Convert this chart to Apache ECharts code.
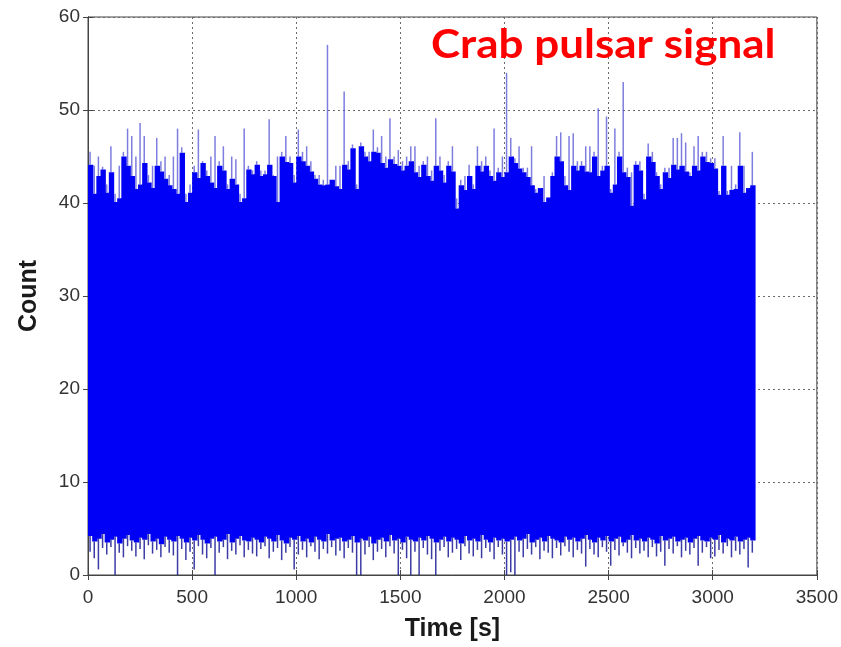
<!DOCTYPE html>
<html><head><meta charset="utf-8">
<script src="https://cdn.jsdelivr.net/npm/echarts@6/dist/echarts.min.js"></script>
<style>html,body{margin:0;padding:0;background:#fff}#c{width:841px;height:647px}</style>
</head><body><div id="c"></div>
<script>
// Histogram of photon counts, 20 s display bins from 0 to 3200 s
const BIN = 20;
// solid top level of each bin
const upper = [
 44.1,41.0,42.9,43.6,41.1,43.3,40.1,40.5,45.0,44.0,
 42.9,41.5,42.0,44.3,42.2,41.6,44.0,43.4,42.6,41.9,
 41.5,41.0,45.4,40.1,41.1,43.3,42.7,44.3,42.9,42.2,
 41.6,44.0,43.5,41.5,42.6,42.0,40.1,40.5,43.6,43.1,
 44.1,42.9,43.1,44.1,42.9,40.1,45.0,44.4,44.3,42.2,
 45.0,44.5,44.0,43.4,42.6,42.0,41.9,42.0,42.5,41.8,
 41.5,44.1,43.6,45.9,41.5,46.1,45.0,44.5,45.5,45.4,
 44.3,43.8,44.7,44.2,44.0,43.5,44.0,44.5,43.3,42.8,
 44.1,42.9,42.4,44.0,43.5,42.2,44.0,43.4,39.4,41.9,
 41.4,42.9,41.5,44.0,43.4,44.0,42.9,42.4,43.3,42.8,
 43.3,45.0,44.3,43.7,43.3,42.8,41.9,41.1,41.6,40.1,
 40.6,42.9,45.0,44.5,41.9,41.4,44.0,43.5,44.0,43.4,
 43.3,45.0,42.9,43.5,44.0,41.1,42.0,45.0,43.3,42.8,
 39.7,44.1,43.5,40.4,45.0,44.4,42.9,41.5,43.3,42.7,
 44.1,43.6,44.0,43.4,42.9,44.0,43.5,45.0,44.4,44.3,
 43.7,40.9,44.0,40.9,41.4,41.5,44.0,41.1,41.6,41.9
];
// thin spike maximum inside each bin
const spike = [
 45.5,44.0,45.0,43.9,42.0,46.1,41.0,44.0,45.5,48.0,
 47.2,45.0,48.6,47.2,43.0,44.0,47.0,44.5,45.0,43.0,
 45.0,48.0,46.0,41.0,42.0,44.0,47.9,44.5,43.5,45.0,
 47.2,44.5,46.1,42.0,45.0,44.7,41.0,48.0,44.0,43.5,
 44.5,43.5,43.5,49.0,43.0,45.0,45.5,47.2,45.0,43.0,
 47.9,45.5,46.1,44.5,43.0,43.0,42.5,57.0,42.5,44.0,
 44.0,52.0,44.5,46.3,42.0,46.5,45.5,45.5,47.9,46.0,
 47.2,45.0,49.1,45.0,45.7,44.5,45.0,46.1,46.1,44.0,
 44.5,45.0,43.5,49.1,45.0,43.0,44.5,46.1,40.5,42.5,
 42.9,44.1,42.0,46.1,44.5,45.0,43.5,48.0,43.8,45.0,
 54.0,47.0,44.8,46.1,43.8,43.8,46.1,41.5,41.5,42.9,
 40.5,43.3,47.2,47.6,42.9,47.2,47.5,44.5,44.5,46.1,
 46.1,45.5,50.2,44.0,49.3,41.5,48.0,45.5,53.0,43.8,
 43.3,44.5,44.5,41.0,46.4,45.5,43.3,42.0,43.8,43.8,
 47.0,47.0,47.5,46.5,43.3,46.1,47.2,45.5,45.5,44.8,
 44.8,41.3,47.2,41.3,44.0,42.0,47.6,44.0,41.5,45.5
];
// solid bottom level of each bin
const lower = [
 4.2,3.6,3.9,4.4,3.5,3.8,4.1,3.4,3.9,4.3,3.7,3.5,4.0,3.8,4.4,3.6,3.9,3.3,4.1,3.8,
 3.6,4.2,3.9,3.5,4.0,3.7,4.3,3.8,3.4,3.9,4.1,3.6,3.8,4.4,3.5,3.9,4.2,3.7,3.6,4.0,
 3.8,3.5,4.1,3.9,3.6,4.3,3.7,3.4,4.0,3.8,4.2,3.6,3.9,3.5,4.1,3.8,3.6,4.4,3.7,3.9,
 4.0,3.6,3.8,4.2,3.5,3.9,3.7,4.1,3.4,3.8,4.0,3.6,4.3,3.7,3.9,3.5,4.1,3.8,3.6,4.0,
 3.7,4.2,3.9,3.5,3.8,4.1,3.6,4.0,3.8,3.4,4.2,3.7,3.9,3.6,4.3,3.8,3.5,4.0,3.7,3.9,
 3.6,3.8,4.1,3.7,3.9,4.4,3.5,3.8,4.0,3.6,4.2,3.9,3.7,3.5,4.1,3.8,4.0,3.6,3.9,4.3,
 3.8,3.5,4.0,3.7,4.2,3.6,3.9,4.1,3.5,3.8,4.3,3.7,3.9,3.6,4.0,3.8,3.4,4.2,3.7,3.9,
 4.1,3.6,3.8,4.0,3.5,3.9,4.2,3.7,3.6,4.0,3.8,4.3,3.5,3.9,3.7,4.1,3.6,3.8,4.0,3.7
];
// thin dip minimum inside each bin
const dip = [
 2.5,1.8,0.6,2.9,2.2,3.0,0.0,2.4,1.9,3.1,2.6,2.0,2.8,1.7,3.2,2.3,2.7,1.9,3.0,2.4,
 2.1,0.0,2.8,1.6,2.5,0.6,3.1,2.2,1.8,2.9,0.0,2.4,3.0,1.7,2.6,2.2,3.2,1.9,2.7,2.3,
 2.0,2.8,3.1,1.8,2.5,2.9,1.6,2.4,3.0,0.6,2.2,2.7,1.9,3.1,2.5,1.7,2.8,2.3,3.0,2.1,
 2.6,1.8,2.9,2.4,0.0,0.0,2.2,3.0,1.6,2.5,2.8,1.9,3.1,2.3,0.0,2.7,1.8,0.0,2.5,0.0,
 2.9,2.2,1.7,0.0,2.6,3.0,1.9,2.4,2.8,1.6,3.1,2.3,2.0,2.7,1.8,2.9,2.5,1.7,3.0,2.2,
 0.0,0.3,0.0,2.5,1.9,2.8,2.2,3.0,1.7,2.6,2.4,1.8,2.9,2.1,3.1,2.5,1.9,2.7,2.3,0.9,
 2.8,2.2,1.9,3.0,2.5,1.0,2.7,2.1,3.1,2.4,1.8,2.9,2.3,2.6,1.9,3.0,2.0,2.5,1.0,2.8,
 2.3,3.1,1.9,2.6,2.2,2.9,1.0,2.4,3.0,1.8,2.0,2.7,2.3,3.1,1.9,2.6,2.2,2.8,0.8,2.4
];
const xTicks = [0,500,1000,1500,2000,2500,3000,3500];
const yTicks = [0,10,20,30,40,50,60];

const data = upper.map((u, i) => [i * BIN, lower[i], u, spike[i], dip[i]]);

const BLUE = '#0000f6';
const SPIKE = 'rgba(70,70,210,0.7)';
const DIP = 'rgba(25,25,150,0.85)';

function renderItem(params, api) {
  const t = api.value(0);
  const lo = api.value(1), hi = api.value(2), sp = api.value(3), dp = api.value(4);
  const a = api.coord([t, hi]);
  const b = api.coord([t + BIN, lo]);
  const m = t + BIN / 2;
  const s0 = api.coord([m, hi]), s1 = api.coord([m, sp]);
  const d0 = api.coord([m, lo]), d1 = api.coord([m, dp]);
  return {
    type: 'group',
    children: [
      { type: 'rect', shape: { x: a[0], y: a[1], width: b[0] - a[0] + 1.2, height: b[1] - a[1] }, style: { fill: BLUE } },
      { type: 'line', shape: { x1: s0[0], y1: s0[1], x2: s1[0], y2: s1[1] }, style: { stroke: SPIKE, lineWidth: 1.5 } },
      { type: 'line', shape: { x1: d0[0], y1: d0[1], x2: d1[0], y2: d1[1] }, style: { stroke: DIP, lineWidth: 1.5 } }
    ]
  };
}

const FONT = 'Liberation Sans, Arial, sans-serif';
const gridLine = { show: true, lineStyle: { type: [2, 3], color: '#6a6a6a', width: 1 } };
const tick = { show: true, inside: true, length: 5, lineStyle: { color: '#444' } };
const plain = v => String(v);

const chart = echarts.init(document.getElementById('c'), null, { renderer: 'canvas' });
chart.setOption({
  animation: false,
  backgroundColor: '#fff',
  graphic: [{
    type: 'text', x: 431, y: 25, scaleX: 1.1, z: 100,
    style: { text: 'Crab pulsar signal', fill: '#ff0000', font: 'bold 40px Lato, sans-serif' }
  }],
  grid: { left: 88, right: 24, top: 17, bottom: 64, show: true, borderColor: '#444', borderWidth: 1, backgroundColor: '#fff' },
  xAxis: [
    {
      type: 'value', min: xTicks[0], max: xTicks[xTicks.length - 1], interval: xTicks[1] - xTicks[0], position: 'bottom',
      axisLine: { show: true, lineStyle: { color: '#444' } }, axisTick: tick,
      axisLabel: { fontSize: 19, color: '#333', margin: 13, fontFamily: FONT, formatter: plain },
      splitLine: gridLine,
      name: 'Time [s]', nameLocation: 'middle', nameGap: 42,
      nameTextStyle: { fontSize: 25, fontWeight: 'bold', color: '#1a1a1a', fontFamily: FONT }
    },
    {
      type: 'value', min: xTicks[0], max: xTicks[xTicks.length - 1], interval: xTicks[1] - xTicks[0], position: 'top',
      axisLine: { show: true, lineStyle: { color: '#444' } }, axisTick: tick, axisLabel: { show: false }, splitLine: { show: false }
    }
  ],
  yAxis: [
    {
      type: 'value', min: yTicks[0], max: yTicks[yTicks.length - 1], interval: yTicks[1] - yTicks[0], position: 'left',
      axisLine: { show: true, lineStyle: { color: '#444' } }, axisTick: tick,
      axisLabel: { fontSize: 19, color: '#333', margin: 8, fontFamily: FONT, formatter: plain },
      splitLine: gridLine,
      name: 'Count', nameLocation: 'middle', nameGap: 46, nameRotate: 90,
      nameTextStyle: { fontSize: 25, fontWeight: 'bold', color: '#1a1a1a', fontFamily: FONT }
    },
    {
      type: 'value', min: yTicks[0], max: yTicks[yTicks.length - 1], interval: yTicks[1] - yTicks[0], position: 'right',
      axisLine: { show: true, lineStyle: { color: '#444' } }, axisTick: tick, axisLabel: { show: false }, splitLine: { show: false }
    }
  ],
  series: [{
    type: 'custom', renderItem: renderItem, data: data, clip: true,
    encode: { x: 0, y: [1, 2, 3, 4] }, xAxisIndex: 0, yAxisIndex: 0
  }]
});
</script>
</body></html>
